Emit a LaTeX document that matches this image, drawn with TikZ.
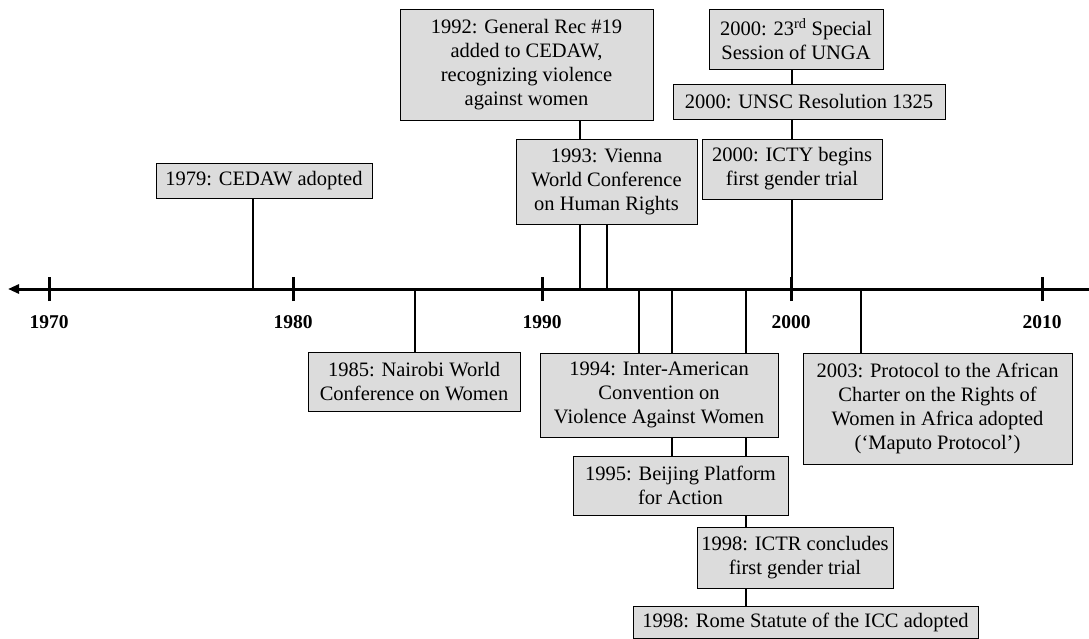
\documentclass[tikz,border=0pt]{standalone}
\usepackage{fontspec}
\setmainfont{Liberation Serif}
\usetikzlibrary{arrows.meta,backgrounds}
\begin{document}
\begin{tikzpicture}[x=1pt,y=-1pt,
  evbox/.style={draw=black,line width=0.9pt,fill={rgb,255:red,220;green,220;blue,220},
    inner sep=0pt,align=center,font=\fontsize{20.5}{24}\selectfont},
  conn/.style={line width=2.6pt},
  axisline/.style={line width=3pt},
  tickmark/.style={line width=3pt},
  yearlbl/.style={font=\fontsize{19.5}{22}\selectfont\bfseries}]
\useasboundingbox (0,0) rectangle (1089,639);
% axis coordinates
\coordinate (axL) at (8,289);
\coordinate (axR) at (1089,289);
\foreach \n/\px in {1970/49,1980/293,1990/542,2000/791,2010/1042}{
  \coordinate (t\n) at (\px,289);
}
\coordinate (e79) at (253,289);
\coordinate (e85) at (415,289);
\coordinate (e92) at (580,289);
\coordinate (e93) at (607,289);
\coordinate (e94) at (639,289);
\coordinate (e95) at (672,289);
\coordinate (e98) at (746,289);
\coordinate (e00) at (792,289);
\coordinate (e03) at (861,289);
% event boxes
\node[evbox,minimum width=216pt,minimum height=35pt] (cedaw) at (264,180.5) {1979: CEDAW adopted};
\node[evbox,minimum width=212pt,minimum height=59pt] (nairobi) at (414,381.5) {1985: Nairobi World\\Conference on Women};
\node[evbox,minimum width=253pt,minimum height=111pt] (genrec) at (526.5,64.5) {1992: General Rec \#19\\added to CEDAW,\\recognizing violence\\against women};
\node[evbox,minimum width=181pt,minimum height=85pt] (vienna) at (606.5,181.5) {1993: Vienna\\World Conference\\on Human Rights};
\node[evbox,minimum width=174pt,minimum height=60pt] (unga) at (796,39) {2000: 23\textsuperscript{rd} Special\\Session of UNGA};
\node[evbox,minimum width=272pt,minimum height=35pt] (unsc) at (809,101.5) {2000: UNSC Resolution 1325};
\node[evbox,minimum width=180pt,minimum height=60pt] (icty) at (792,169) {2000: ICTY begins\\first gender trial};
\node[evbox,minimum width=238pt,minimum height=84pt] (interam) at (659,395) {1994: Inter-American\\Convention on\\Violence Against Women};
\node[evbox,minimum width=215pt,minimum height=59pt] (beijing) at (680.5,485.5) {1995: Beijing Platform\\for Action};
\node[evbox,minimum width=196pt,minimum height=61pt] (ictr) at (795,557.5) {1998: ICTR concludes\\first gender trial};
\node[evbox,minimum width=345pt,minimum height=32pt] (rome) at (805.5,622) {1998: Rome Statute of the ICC adopted};
\node[evbox,minimum width=269pt,minimum height=111pt] (african) at (937.5,408.5) {2003: Protocol to the African\\Charter on the Rights of\\Women in Africa adopted\\(‘Maputo Protocol’)};
% connectors behind the boxes
\begin{pgfonlayer}{background}
\draw[conn] (e79 |- cedaw.south) -- (e79);
\draw[conn] (e85) -- (e85 |- nairobi.north);
\draw[conn] (e92 |- genrec.south) -- (e92);
\draw[conn] (e93 |- vienna.south) -- (e93);
\draw[conn] (e00 |- unga.south) -- (e00);
\draw[conn] (e94) -- (e94 |- interam.north);
\draw[conn] (e95) -- (e95 |- beijing.north);
\draw[conn] (e98) -- (e98 |- rome.north);
\draw[conn] (e03) -- (e03 |- african.north);
\end{pgfonlayer}
% axis
\draw[axisline,{Triangle[length=11pt,width=9pt]}-] (axL) -- (axR);
\foreach \n in {1970,1980,1990,2000,2010}{
  \draw[tickmark] ([yshift=-12pt]t\n) -- ([yshift=12pt]t\n);
  \node[yearlbl] (l\n) at ([yshift=-33pt]t\n) {\n};
}
\end{tikzpicture}
\end{document}
